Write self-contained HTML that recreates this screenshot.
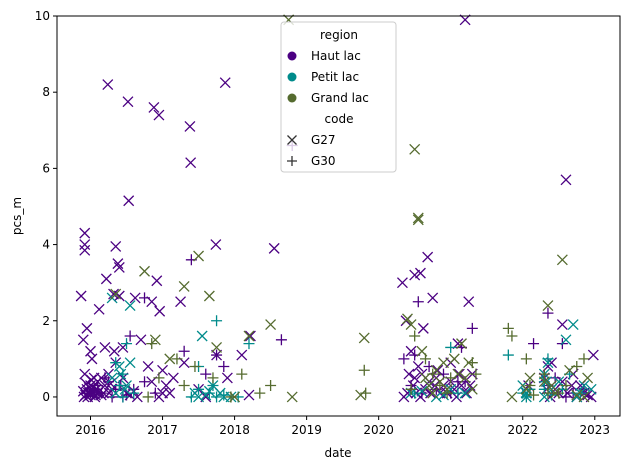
<!DOCTYPE html>
<html><head><meta charset="utf-8"><style>
body{margin:0;background:#fff;font-family:"Liberation Sans","DejaVu Sans",sans-serif}
svg text{font-family:"DejaVu Sans","Liberation Sans",sans-serif}
</style></head><body>
<svg id="chart" width="630" height="470" viewBox="0 0 630 470" xmlns="http://www.w3.org/2000/svg"></svg>
<script>
const xTicks=[2016,2017,2018,2019,2020,2021,2022,2023];
const yTicks=[0,2,4,6,8,10];
const regions=["Haut lac","Petit lac","Grand lac"];
const codes=["G27","G30"];
const colors=["#4b0082","#008b8b","#556b2f"];
const hautG27=[[2015.87,2.65],[2015.92,4.3],[2015.92,4.0],[2015.92,3.85],[2015.95,0.2],[2015.97,0.1],[2016.0,0.3],[2016.05,0.15],[2015.9,1.5],[2015.95,1.8],[2016.0,1.2],[2016.05,0.5],[2016.1,0.1],[2016.15,0.05],[2016.2,0.3],[2015.92,0.6],[2016.02,1.0],[2016.12,2.3],[2016.24,8.2],[2016.35,3.95],[2016.38,3.5],[2016.4,3.4],[2016.4,2.65],[2016.52,7.75],[2016.53,5.15],[2016.32,2.7],[2016.22,3.1],[2016.62,2.6],[2016.92,3.05],[2016.88,7.6],[2016.95,7.4],[2016.85,2.5],[2016.96,2.25],[2017.25,2.5],[2017.38,7.1],[2017.39,6.15],[2017.74,4.0],[2017.87,8.25],[2018.1,1.1],[2018.22,1.6],[2018.55,3.9],[2016.45,1.3],[2016.5,0.1],[2016.8,0.8],[2017.05,0.3],[2017.5,0.2],[2017.9,0.5],[2018.2,0.05],[2015.93,0.05],[2015.96,0.0],[2016.0,0.05],[2016.03,0.1],[2016.08,0.2],[2016.1,0.4],[2015.98,0.25],[2016.06,0.0],[2016.25,0.6],[2016.3,0.2],[2016.35,0.9],[2016.6,0.15],[2016.7,1.5],[2017.0,0.7],[2017.1,0.1],[2017.3,0.9],[2017.75,1.1],[2017.6,0.0],[2015.9,0.15],[2015.94,0.35],[2015.99,0.1],[2016.04,0.25],[2016.07,0.05],[2016.12,0.15],[2016.15,0.5],[2016.18,0.1],[2015.91,0.0],[2016.01,0.45],[2016.26,0.1],[2016.28,0.35],[2016.33,1.2],[2016.2,1.3],[2016.45,0.5],[2016.55,0.05],[2016.65,0.0],[2016.85,0.4],[2016.95,0.0],[2017.15,0.5],[2017.0,0.1],[2020.33,3.0],[2020.38,2.0],[2020.5,3.2],[2020.58,3.25],[2020.68,3.67],[2020.75,2.6],[2020.45,1.2],[2020.55,0.8],[2020.62,1.8],[2020.8,0.5],[2020.9,0.3],[2021.0,0.9],[2021.1,1.4],[2021.25,2.5],[2021.2,9.9],[2020.4,0.1],[2020.7,0.4],[2021.05,0.2],[2021.3,0.6],[2020.35,0.0],[2020.5,0.5],[2020.65,0.2],[2020.85,0.1],[2021.15,0.3],[2020.42,0.6],[2020.48,0.3],[2020.52,0.1],[2020.6,0.6],[2020.72,0.1],[2020.78,0.3],[2020.82,0.7],[2020.95,0.1],[2021.0,0.4],[2021.08,0.0],[2021.12,0.6],[2021.22,0.1],[2021.27,0.3],[2020.58,0.0],[2022.35,0.8],[2022.4,0.9],[2022.55,1.9],[2022.6,5.7],[2022.98,1.1],[2022.5,0.1],[2022.8,0.3],[2022.9,0.05],[2022.3,0.5],[2022.45,0.2],[2022.7,0.6],[2022.33,0.2],[2022.38,0.0],[2022.55,0.4],[2022.62,0.1],[2022.68,0.3],[2022.75,0.0],[2022.85,0.1],[2022.95,0.0],[2022.05,0.1],[2022.08,0.3]];
const hautG30=[[2016.0,0.1],[2016.1,0.3],[2016.2,0.5],[2016.3,0.0],[2016.42,0.3],[2016.5,0.05],[2016.6,0.2],[2016.75,0.4],[2016.9,0.1],[2016.55,1.6],[2016.75,2.6],[2017.3,1.2],[2017.4,3.6],[2017.85,0.8],[2018.65,1.5],[2018.8,6.6],[2017.6,0.6],[2017.75,1.1],[2016.15,0.1],[2016.25,0.4],[2016.35,0.2],[2016.45,0.0],[2016.05,0.2],[2020.35,1.0],[2020.55,2.5],[2020.5,1.1],[2020.7,0.8],[2020.9,0.6],[2021.3,1.8],[2021.15,1.3],[2021.0,0.1],[2020.45,0.3],[2020.6,0.1],[2020.8,0.2],[2021.1,0.4],[2022.35,2.2],[2022.55,1.4],[2022.35,0.3],[2022.7,0.1],[2022.15,1.4],[2021.2,0.4],[2022.45,0.5],[2022.6,0.0],[2022.85,0.2]];
const petitG27=[[2016.3,2.6],[2016.55,2.4],[2016.3,0.5],[2016.4,0.8],[2016.5,0.3],[2016.55,0.9],[2016.35,0.1],[2016.42,0.6],[2016.48,0.2],[2017.55,1.6],[2017.7,0.3],[2017.5,0.0],[2017.8,0.1],[2017.95,0.0],[2017.6,0.05],[2017.65,0.15],[2017.85,0.0],[2017.45,0.1],[2020.45,0.1],[2020.7,0.3],[2020.8,0.0],[2021.0,0.2],[2021.2,0.1],[2020.6,0.15],[2020.9,0.05],[2022.05,0.1],[2022.0,0.3],[2022.3,0.6],[2022.35,0.9],[2022.4,0.2],[2022.6,1.5],[2022.7,1.9],[2022.85,0.3],[2022.75,0.0],[2022.95,0.2],[2022.3,0.0],[2022.5,0.4],[2022.05,0.0],[2022.33,0.4],[2022.8,0.1]];
const petitG30=[[2016.45,0.6],[2016.6,0.1],[2016.4,0.3],[2016.5,1.4],[2016.35,0.9],[2016.45,0.0],[2017.4,0.0],[2017.5,0.2],[2017.65,0.1],[2017.75,0.0],[2017.75,2.0],[2017.5,0.8],[2018.05,0.0],[2018.2,1.4],[2017.85,0.05],[2017.7,0.3],[2021.0,1.3],[2021.1,0.1],[2020.5,0.1],[2022.05,0.0],[2022.1,0.2],[2022.3,0.4],[2022.35,1.0],[2022.55,0.2],[2022.65,0.6],[2022.8,0.1],[2021.8,1.1],[2022.4,0.05],[2022.0,0.1],[2022.3,0.2]];
const grandG27=[[2016.35,2.7],[2016.75,3.3],[2016.9,1.5],[2017.3,2.9],[2017.5,3.7],[2017.65,2.65],[2017.75,1.3],[2017.1,1.0],[2018.2,1.6],[2018.0,0.0],[2018.5,1.9],[2018.8,0.0],[2018.75,9.9],[2019.8,1.55],[2019.75,0.05],[2020.5,6.5],[2020.55,4.7],[2020.55,4.65],[2020.4,2.05],[2020.45,1.9],[2020.6,1.2],[2020.8,0.7],[2020.9,0.9],[2021.05,1.0],[2021.15,1.4],[2021.25,0.9],[2020.7,0.3],[2021.3,0.2],[2020.65,0.5],[2020.75,0.1],[2020.85,0.4],[2020.95,0.2],[2021.1,0.6],[2022.35,2.4],[2022.55,3.6],[2022.3,0.4],[2022.65,0.7],[2022.9,0.5],[2022.45,0.1],[2022.75,0.05],[2021.85,0.0],[2021.2,0.5],[2022.05,0.2],[2022.1,0.5],[2022.4,0.3],[2022.85,0.0]];
const grandG30=[[2016.95,0.5],[2016.85,1.4],[2017.2,1.0],[2017.3,0.3],[2017.45,0.8],[2017.7,0.5],[2017.95,0.0],[2018.1,0.6],[2018.35,0.1],[2018.5,0.3],[2016.8,0.0],[2019.8,0.7],[2019.82,0.1],[2020.5,1.6],[2020.45,0.2],[2020.65,1.0],[2020.85,0.3],[2021.0,0.5],[2021.3,0.9],[2021.35,0.6],[2020.75,0.6],[2020.95,0.1],[2021.8,1.8],[2021.85,1.6],[2022.05,1.0],[2022.3,0.6],[2022.6,0.3],[2022.75,0.8],[2022.85,1.0],[2022.15,0.05],[2022.5,0.1],[2022.1,0.3],[2022.35,0.1]];
const groups=[[hautG27,0,0],[hautG30,0,1],[petitG27,1,0],[petitG30,1,1],[grandG27,2,0],[grandG30,2,1]];

const svg=document.getElementById('chart');
const NS='http://www.w3.org/2000/svg';
const L=57,R=620,T=16,B=416;
const xMin=2015.535,xMax=2023.35,yMin=-0.5,yMax=10;
const xs=v=>L+(v-xMin)/(xMax-xMin)*(R-L);
const ys=v=>B-(v-yMin)/(yMax-yMin)*(B-T);
function el(tag,attrs,parent){const e=document.createElementNS(NS,tag);for(const k in attrs)e.setAttribute(k,attrs[k]);(parent||svg).appendChild(e);return e;}
function marker(g,x,y,code,color,s){
  const d=code===0?`M${x-s},${y-s}L${x+s},${y+s}M${x-s},${y+s}L${x+s},${y-s}`:`M${x-s},${y}L${x+s},${y}M${x},${y-s}L${x},${y+s}`;
  return el('path',{d:d,stroke:color,'stroke-width':1.3,fill:'none'},g);
}
const plot=el('g',{});


groups.forEach(([pts,r,c])=>{
  pts.forEach(p=>{
    const m=marker(plot,xs(p[0]),ys(p[1]),c,colors[r],c===0?5:5.5);
    
    
  });
});
const frame=el('rect',{x:L,y:T,width:R-L,height:B-T,fill:'none',stroke:'#000','stroke-width':1});


xTicks.forEach(t=>{
  const x=xs(t);
  el('line',{x1:x,x2:x,y1:B,y2:B+4,stroke:'#000'});
  const tx=el('text',{x:x,y:B+18,'text-anchor':'middle','font-size':12});
  tx.textContent=t;
  
  
});
yTicks.forEach(t=>{
  const y=ys(t);
  el('line',{x1:L-4,x2:L,y1:y,y2:y,stroke:'#000'});
  const tx=el('text',{x:L-7,y:y+4,'text-anchor':'end','font-size':12});
  tx.textContent=t;
  
  
});
const xl=el('text',{x:338,y:457,'text-anchor':'middle','font-size':12});xl.textContent='date';


const yl=el('text',{x:21,y:216,'text-anchor':'middle','font-size':12,transform:'rotate(-90 21 216)'});yl.textContent='pcs_m';


const lg=el('g',{});


el('rect',{x:281,y:22,width:115,height:150,rx:3,fill:'#fff','fill-opacity':0.8,stroke:'#ccc'},lg);
const rows=[['region',null,null],['Haut lac','dot',0],['Petit lac','dot',1],['Grand lac','dot',2],['code',null,null],['G27','x',0],['G30','+',1]];
rows.forEach((r,i)=>{
  const y=39+i*21;
  if(r[1]===null){const t=el('text',{x:339,y:y,'text-anchor':'middle','font-size':12},lg);t.textContent=r[0];return;}
  if(r[1]==='dot')el('circle',{cx:292,cy:y-4,r:4.5,fill:colors[r[2]]},lg);
  else marker(lg,292,y-4,r[2],'#333',r[2]===0?4.5:5);
  const t=el('text',{x:311,y:y,'font-size':12},lg);t.textContent=r[0];
  
  
});
</script>
</body></html>
